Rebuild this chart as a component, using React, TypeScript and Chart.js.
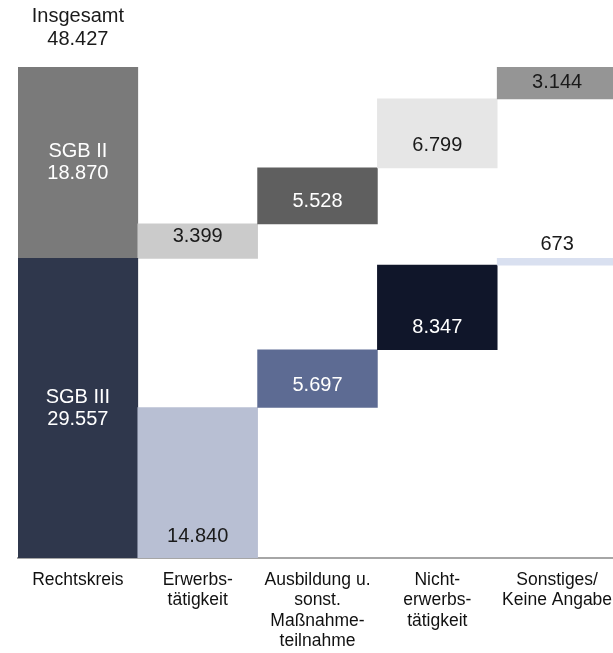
import React, { useEffect, useRef } from "react";
import { Chart, registerables } from "chart.js";

Chart.register(...registerables);

// ---- data ----
const categories: string[][] = [
  ["Rechtskreis"],
  ["Erwerbs-", "tätigkeit"],
  ["Ausbildung u.", "sonst.", "Maßnahme-", "teilnahme"],
  ["Nicht-", "erwerbs-", "tätigkeit"],
  ["Sonstiges/", "Keine Angabe"],
];
const seriesNames = ["SGB III", "SGB II"];
const sgb3Values = [29557, 14840, 5697, 8347, 673];
const sgb2Values = [18870, 3399, 5528, 6799, 3144];
const totalLabel = "Insgesamt";
const totalValue = 48427;

// ---- styles ----
const FONT = "'Liberation Sans', Arial, Helvetica, sans-serif";
const sgb3Colors = ["#2f374c", "#b8bfd3", "#5d6b93", "#10162a", "#d9e0f0"];
const sgb2Colors = ["#7a7a7a", "#cbcbcb", "#5f5f5f", "#e6e6e6", "#959595"];
const sgb3TextColors = ["#ffffff", "#1a1a1a", "#ffffff", "#ffffff", "#1a1a1a"];
const sgb2TextColors = ["#ffffff", "#1a1a1a", "#ffffff", "#1a1a1a", "#1a1a1a"];

function buildRanges(values: number[], start: number): [number, number][] {
  const out: [number, number][] = [[start, start + values[0]]];
  let acc = start;
  for (let i = 1; i < values.length; i++) {
    out.push([acc, acc + values[i]]);
    acc += values[i];
  }
  return out;
}

const fmt = (n: number) => String(n).replace(/\B(?=(\d{3})+(?!\d))/g, ".");

const allValues = [sgb3Values, sgb2Values];
const allTextColors = [sgb3TextColors, sgb2TextColors];

const labelsPlugin = {
  id: "barLabels",
  afterDatasetsDraw(chart: any) {
    const ctx = chart.ctx;
    ctx.save();
    ctx.font = `20px ${FONT}`;
    ctx.textAlign = "center";
    ctx.textBaseline = "middle";
    chart.data.datasets.forEach((_ds: any, di: number) => {
      const meta = chart.getDatasetMeta(di);
      meta.data.forEach((el: any, i: number) => {
        const { x, y, base } = el.getProps(["x", "y", "base"], true);
        const top = Math.min(y, base);
        const bottom = Math.max(y, base);
        const h = bottom - top;
        const value = allValues[di][i];
        ctx.fillStyle = allTextColors[di][i];
        if (i === 0) {
          const c = (top + bottom) / 2;
          ctx.fillText(seriesNames[di], x, c - 11);
          ctx.fillText(fmt(value), x, c + 11);
          if (di === 1) {
            ctx.fillStyle = "#1a1a1a";
            ctx.fillText(totalLabel, x, top - 51);
            ctx.fillText(fmt(totalValue), x, top - 27.5);
          }
        } else if (h < 15) {
          ctx.fillStyle = "#1a1a1a";
          ctx.fillText(fmt(value), x, top - 14);
        } else if (h < 33) {
          ctx.fillText(fmt(value), x, (top + bottom) / 2);
        } else {
          ctx.fillText(fmt(value), x, bottom - 22);
        }
      });
    });
    ctx.restore();
  },
};

export default function App() {
  const canvasRef = useRef<HTMLCanvasElement | null>(null);

  useEffect(() => {
    if (!canvasRef.current) return;
    const chart = new Chart(canvasRef.current, {
      type: "bar",
      data: {
        labels: categories as any,
        datasets: [
          {
            label: seriesNames[0],
            data: buildRanges(sgb3Values, 0) as any,
            backgroundColor: sgb3Colors,
            borderWidth: 0,
            grouped: false,
            barPercentage: 1,
            categoryPercentage: 1,
          } as any,
          {
            label: seriesNames[1],
            data: buildRanges(sgb2Values, sgb3Values[0]) as any,
            backgroundColor: sgb2Colors,
            borderWidth: 0,
            grouped: false,
            barPercentage: 1,
            categoryPercentage: 1,
          } as any,
        ],
      },
      options: {
        responsive: false,
        animation: false,
        devicePixelRatio: 1,
        layout: { padding: { top: 67, left: 18, right: 13, bottom: 0 } },
        plugins: {
          legend: { display: false },
          tooltip: { enabled: false },
          title: { display: false },
        },
        scales: {
          x: {
            z: 1,
            grid: { display: false, drawTicks: false },
            border: { display: true, color: "#a6a6a6", width: 2 },
            ticks: {
              color: "#111111",
              font: { family: FONT, size: 17.5, lineHeight: 20.5 / 17.5 },
              padding: 11.75,
              autoSkip: false,
              maxRotation: 0,
              minRotation: 0,
            },
            afterFit: (scale: any) => {
              scale.height = 95;
            },
          } as any,
          y: {
            display: false,
            min: 0,
            max: totalValue,
          },
        },
      },
      plugins: [labelsPlugin],
    });
    return () => chart.destroy();
  }, []);

  return (
    <div
      style={{
        position: "absolute",
        left: 0,
        top: 0,
        width: 613,
        height: 653,
        overflow: "hidden",
        background: "#ffffff",
      }}
    >
      <canvas ref={canvasRef} width={630} height={653} style={{ display: "block" }} />
    </div>
  );
}
